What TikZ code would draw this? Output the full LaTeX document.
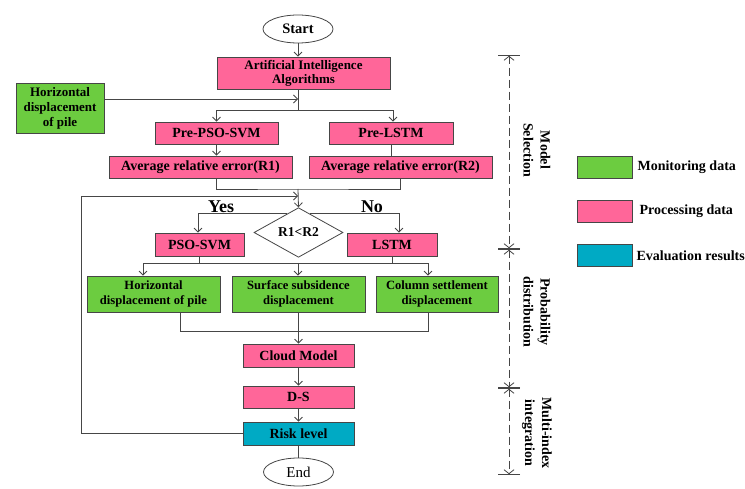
\documentclass[tikz,border=0pt]{standalone}
\usepackage{fontspec}
\setmainfont{Liberation Serif}
\usetikzlibrary{arrows.meta,shapes.geometric,calc}
\definecolor{mongreen}{RGB}{108,204,64}
\definecolor{procpink}{RGB}{255,102,153}
\definecolor{evalteal}{RGB}{0,170,196}
\definecolor{linegray}{RGB}{70,70,70}
\begin{document}
\begin{tikzpicture}[x=1pt,y=-1pt,
  box/.style={draw=linegray,line width=0.8pt,inner sep=1pt,align=center,font=\bfseries\fontsize{14}{15}\selectfont},
  pinkbox/.style={box,fill=procpink},
  greenbox/.style={box,fill=mongreen,font=\bfseries\fontsize{12.6}{15}\selectfont},
  tealbox/.style={box,fill=evalteal},
  oval/.style={draw=linegray,line width=0.8pt,ellipse,inner sep=0pt,minimum width=70pt,minimum height=28pt,fill=white},
  conn/.style={draw=linegray,line width=0.8pt},
  arr/.style={conn,-{Straight Barb[length=4pt,width=8pt]}},
  phase/.style={draw=linegray,line width=0.8pt,dash pattern=on 8pt off 4pt,
    {Bar[width=22pt]Straight Barb[length=4pt,width=10pt]}-{Straight Barb[length=4pt,width=10pt]Bar[width=22pt]}},
  phaselabel/.style={rotate=-90,align=center,font=\bfseries\fontsize{14}{17}\selectfont},
  legendtext/.style={anchor=west,font=\bfseries\fontsize{14}{15}\selectfont}
]
\useasboundingbox[fill=white] (0,0) rectangle (745,489);

% ---- flow chart nodes ----
\node[oval,font=\bfseries\fontsize{14.5}{15}\selectfont] (start) at (298,29) {Start};
\node[pinkbox,minimum width=173pt,minimum height=32pt,font=\bfseries\fontsize{13}{14}\selectfont] (ai) at (303.5,73) {Artificial Intelligence\\Algorithms};
\node[greenbox,minimum width=88pt,minimum height=50pt,font=\bfseries\fontsize{13}{15}\selectfont] (hdp0) at (60,108) {Horizontal\\displacement\\of pile};
\node[pinkbox,minimum width=123pt,minimum height=22pt] (prepso) at (216.5,133) {Pre-PSO-SVM};
\node[pinkbox,minimum width=124pt,minimum height=22pt] (prelstm) at (391,133) {Pre-LSTM};
\node[pinkbox,minimum width=183pt,minimum height=22pt] (r1) at (200.5,167) {Average relative error(R1)};
\node[pinkbox,minimum width=183pt,minimum height=22pt] (r2) at (400.5,167) {Average relative error(R2)};
\node[draw=linegray,line width=0.8pt,diamond,fill=white,inner sep=0pt,minimum width=89pt,minimum height=41pt,font=\bfseries\fontsize{13.5}{14}\selectfont] (dia) at (298.5,232.5) {R1<R2};
\node[pinkbox,minimum width=89pt,minimum height=23pt] (pso) at (199.5,244.5) {PSO-SVM};
\node[pinkbox,minimum width=90pt,minimum height=23pt] (lstm) at (392,244.5) {LSTM};
\node[greenbox,minimum width=133pt,minimum height=36pt] (g1) at (153.5,294) {Horizontal\\displacement of pile};
\node[greenbox,minimum width=133pt,minimum height=36pt] (g2) at (298.5,294) {Surface subsidence\\displacement};
\node[greenbox,minimum width=122pt,minimum height=36pt] (g3) at (437,294) {Column settlement\\displacement};
\node[pinkbox,minimum width=111pt,minimum height=23pt] (cloud) at (298.5,355.5) {Cloud Model};
\node[pinkbox,minimum width=111pt,minimum height=22pt] (ds) at (298.5,397) {D-S};
\node[tealbox,minimum width=111pt,minimum height=23pt] (risk) at (298.5,433.5) {Risk level};
\node[oval,font=\fontsize{15}{16}\selectfont] (end) at (298.5,472) {End};

\node[font=\bfseries\fontsize{18}{20}\selectfont] (yes) at (221,207) {Yes};
\node[font=\bfseries\fontsize{18}{20}\selectfont] (no) at (372,207) {No};

% ---- junction points ----
\coordinate (j1) at (298,110);
\coordinate (j2) at (298,189);
\coordinate (j3) at (298,196);
\coordinate (fb) at (81,196);
\coordinate (b1) at (298,263);
\coordinate (b2) at (298,331);

% ---- connectors ----
\draw[arr] (start.south) -- (start.south |- ai.north);
\draw[conn] (ai.south -| j1) -- (j1);
\draw[arr] (hdp0.east |- 0,99) -- (j1 |- 0,99);
\draw[arr] (j1) -| (prepso.north);
\draw[arr] (j1) -| ([xshift=2pt]prelstm.north);
\draw[arr] (prepso.south) -- (prepso.south |- r1.north);
\draw[conn] (prelstm.south) -- (prelstm.south |- r2.north);
\draw[conn] (prepso.south |- r1.south) |- (j2) -| (r2.south);
\draw[arr] (j2) -- (dia.north);
\draw[arr] (risk.west) -| (fb) -- (j3);
\draw[arr] ($(dia.north)!0.25!(dia.west)$) -| ([xshift=-1.5pt]pso.north);
\draw[arr] ($(dia.north)!0.25!(dia.east)$) -| ([xshift=7pt]lstm.north);
\draw[conn] (pso.south) |- (b1);
\draw[conn] (lstm.south) |- (b1);
\draw[arr] (b1) -| ([xshift=-10.5pt]g1.north);
\draw[arr] (b1) -- (b1 |- g2.north);
\draw[arr] (b1) -| ([xshift=-9pt]g3.north);
\draw[conn] ([xshift=26.5pt]g1.south) |- (b2);
\draw[conn] ([xshift=-9pt]g3.south) |- (b2);
\draw[arr] (g2.south) -- (cloud.north);
\draw[arr] (cloud.south) -- (ds.north);
\draw[arr] (ds.south) -- (risk.north);
\draw[conn] (risk.south) -- (end.north);

% ---- phase scale ----
\coordinate (p0) at (509,55);
\coordinate (p1) at (509,249);
\coordinate (p2) at (509,388);
\coordinate (p3) at (509,475);
\draw[phase] (p0) -- (p1);
\draw[phase] (p1) -- (p2);
\draw[phase] (p2) -- (p3);
\node[phaselabel] (lab1) at (537,150) {Model\\Selection};
\node[phaselabel] (lab2) at (537,312) {Probability\\distribution};
\node[phaselabel] (lab3) at (537,433) {Multi-index\\integration};

% ---- legend ----
\node[pinkbox,fill=mongreen,minimum width=55pt,minimum height=22pt] (leg1) at (604.5,167) {};
\node[pinkbox,minimum width=55pt,minimum height=22pt] (leg2) at (604.5,211) {};
\node[tealbox,minimum width=55pt,minimum height=22pt] (leg3) at (604.5,255.5) {};
\node[legendtext] (legt1) at (634,167) {Monitoring data};
\node[legendtext] (legt2) at (636,211) {Processing data};
\node[legendtext] (legt3) at (633,255.5) {Evaluation results};
\end{tikzpicture}
\end{document}
